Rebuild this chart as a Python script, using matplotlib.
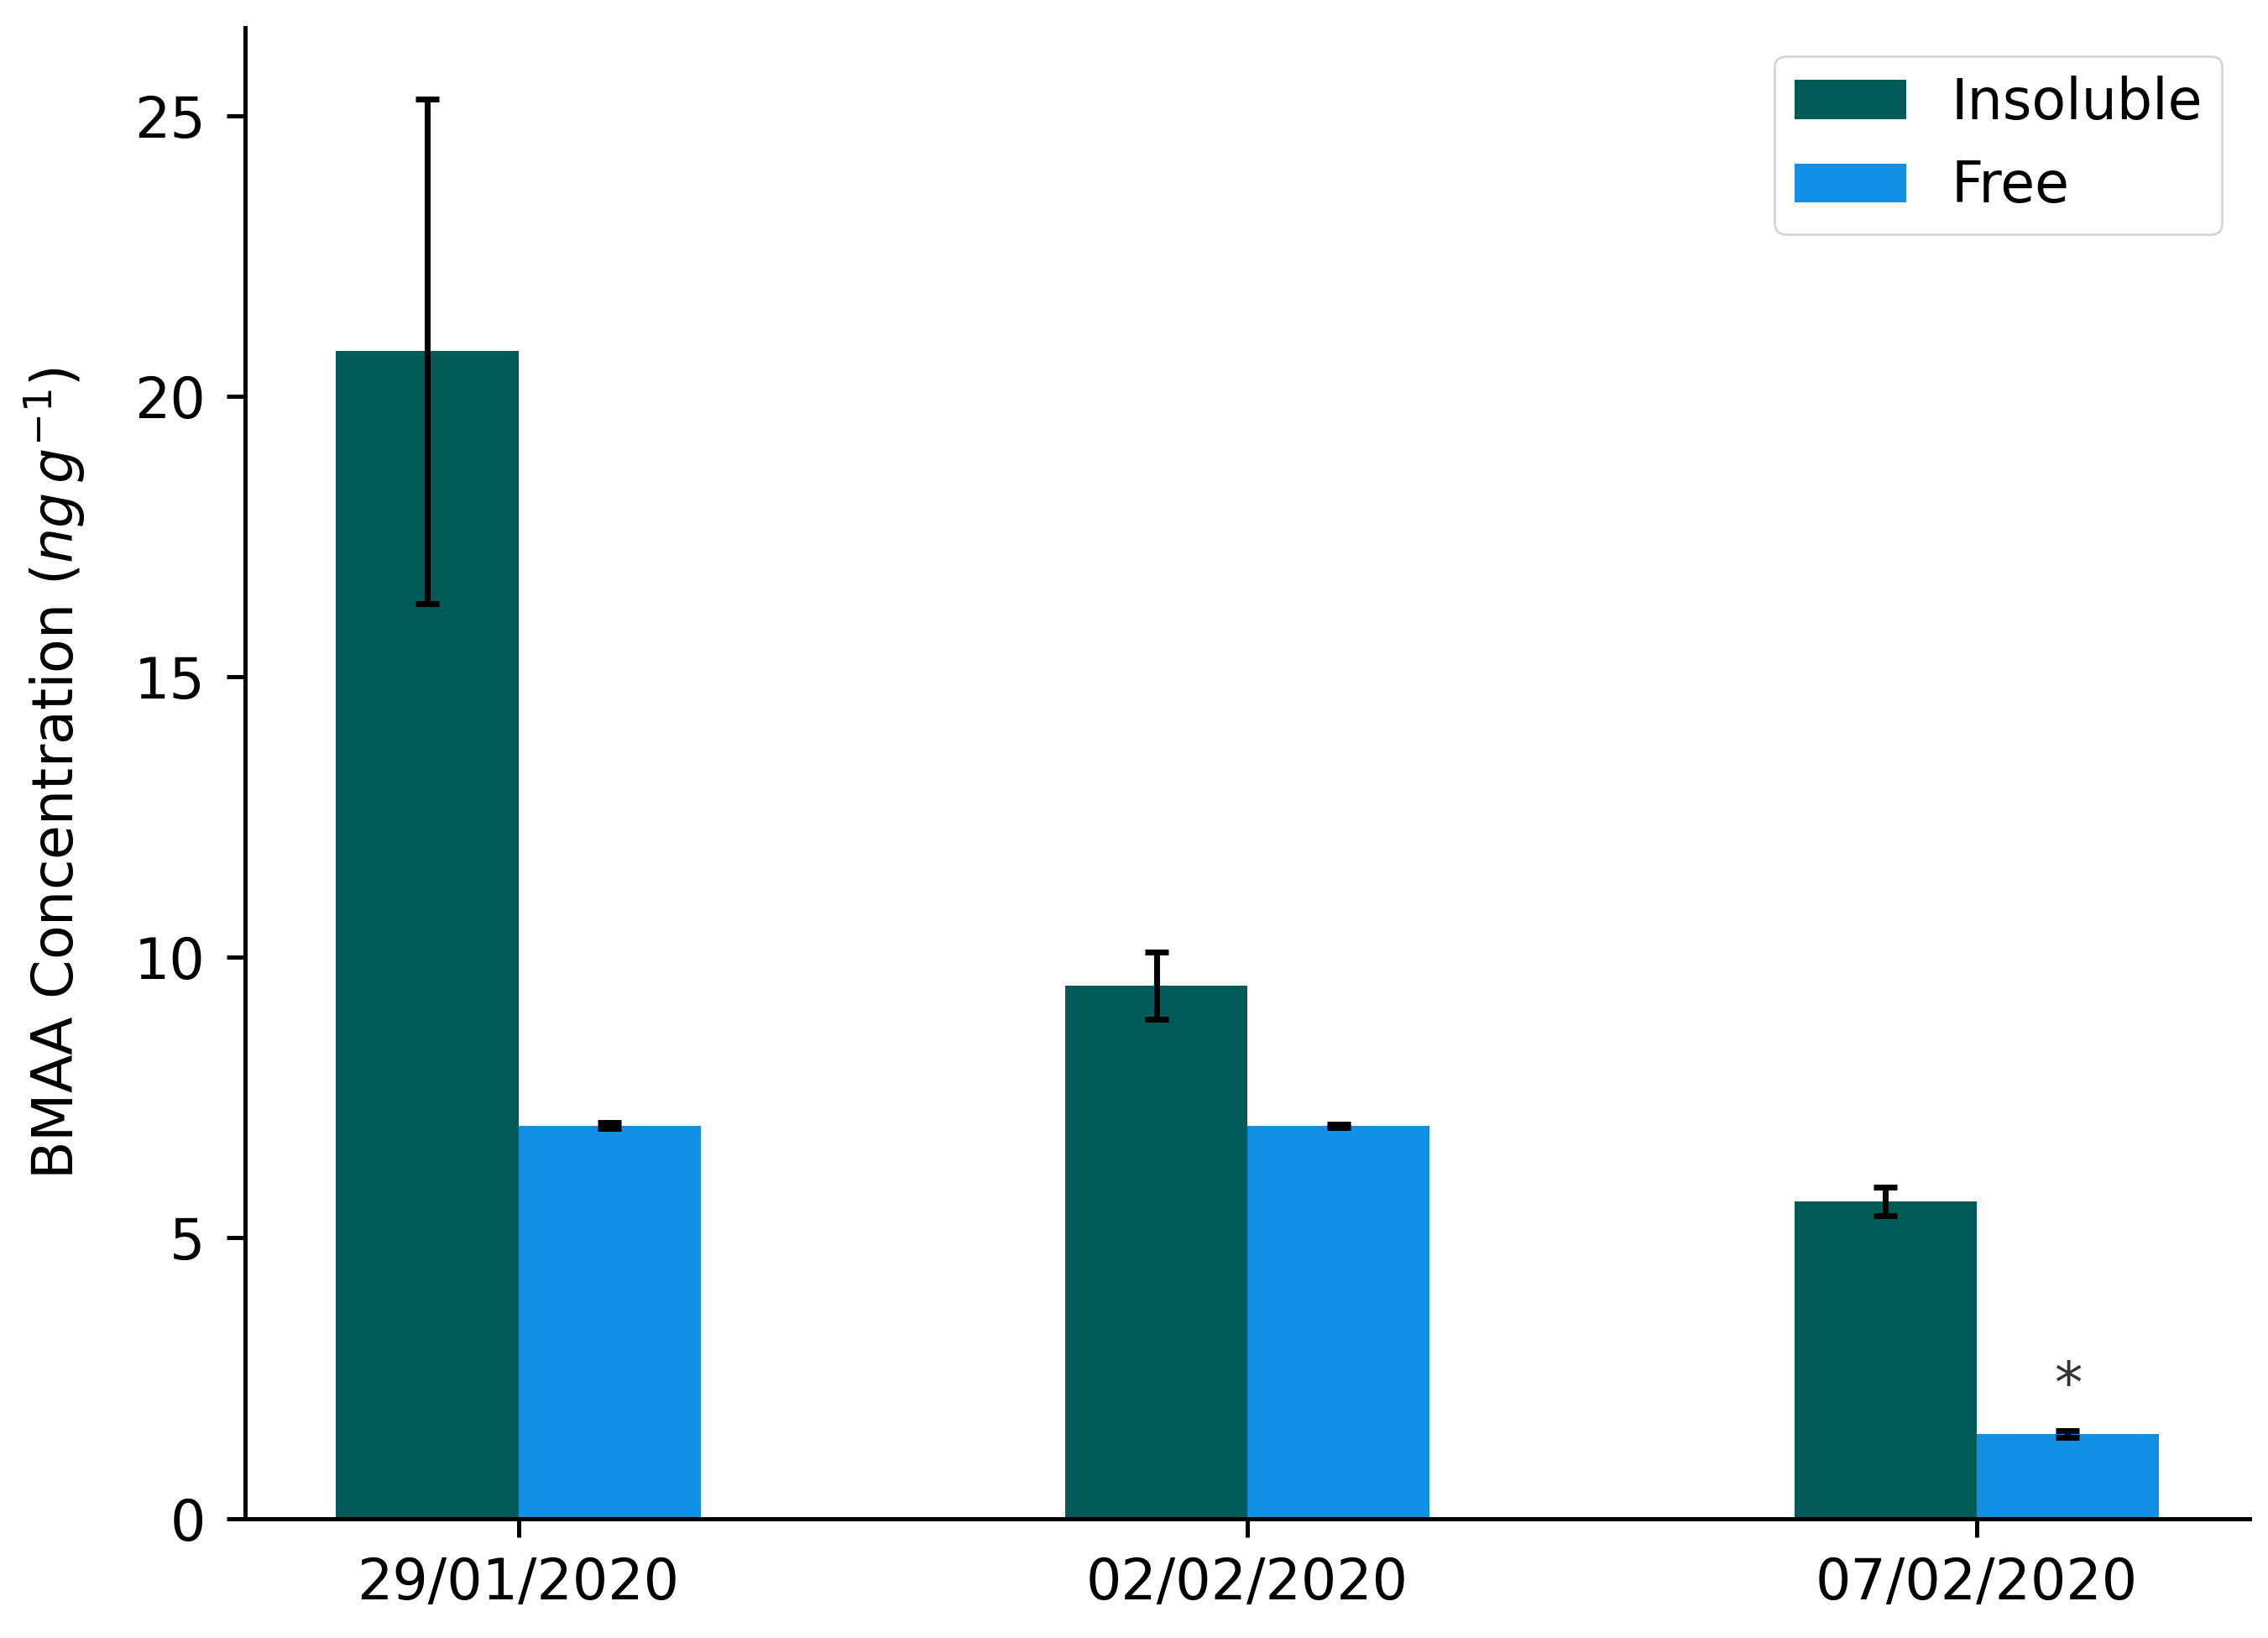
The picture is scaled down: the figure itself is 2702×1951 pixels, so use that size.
import matplotlib
matplotlib.use("Agg")
import matplotlib.pyplot as plt
import numpy as np

dates = ["29/01/2020", "02/02/2020", "07/02/2020"]
insoluble = [20.8, 9.5, 5.65]
insoluble_err = [4.5, 0.6, 0.25]
free = [7.0, 7.0, 1.5]
free_err = [0.05, 0.03, 0.06]
stars = ["", "", "*"]

COL_INS = "#025b58"
COL_FREE = "#1390e6"
WIDTH = 0.25

x = np.arange(len(dates))

fig, ax = plt.subplots(figsize=(13.51, 9.755), dpi=200)
fig.subplots_adjust(left=0.108, right=0.992, top=0.983, bottom=0.073)

err_kw = dict(elinewidth=2.5, capthick=2.5, ecolor="black")
ax.bar(x - WIDTH / 2, insoluble, WIDTH, yerr=insoluble_err, capsize=5,
       color=COL_INS, label="Insoluble", error_kw=err_kw)
ax.bar(x + WIDTH / 2, free, WIDTH, yerr=free_err, capsize=5,
       color=COL_FREE, label="Free", error_kw=err_kw)

for i, s in enumerate(stars):
    if s:
        ax.text(x[i] + WIDTH / 2, free[i] + free_err[i] + 0.8, s,
                ha="center", va="center", fontsize=24, color="#333333")

ax.set_xticks(x)
ax.set_xticklabels(dates)
ax.set_ylabel(r"BMAA Concentration ($ng\,g^{-1}$)", fontsize=24, labelpad=20)
ax.tick_params(labelsize=24, width=1.8, length=8)
ax.tick_params(axis="y", pad=9)
ax.tick_params(axis="x", pad=8)
for sp in ["top", "right"]:
    ax.spines[sp].set_visible(False)
for sp in ["left", "bottom"]:
    ax.spines[sp].set_linewidth(1.8)

ax.legend(loc="upper right", fontsize=24, handlelength=2.0, borderpad=0.35)

plt.savefig("out.png", dpi=200)
